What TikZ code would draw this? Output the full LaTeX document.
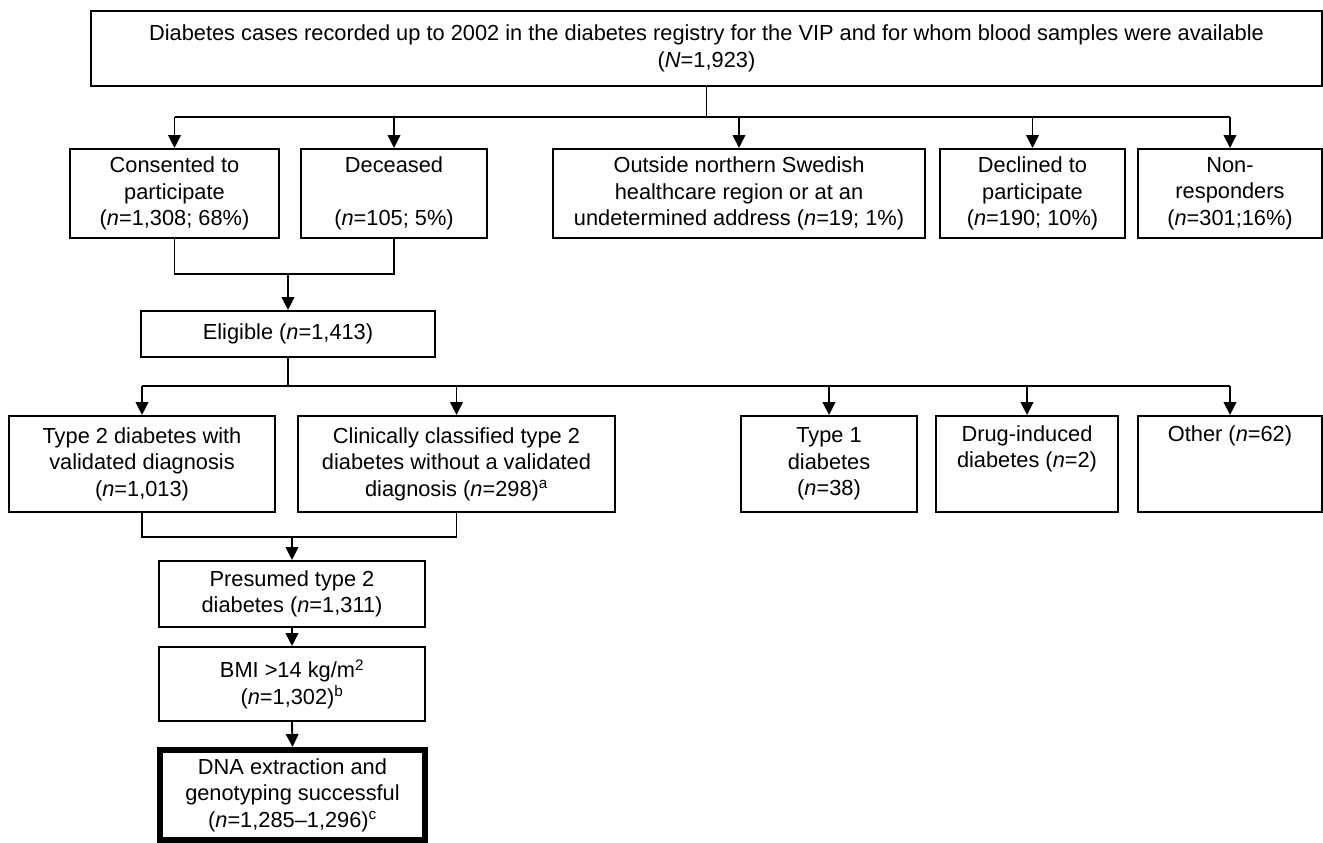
\documentclass[tikz,border=0pt]{standalone}
\usepackage{fontspec}
\setmainfont{Liberation Sans}
\usetikzlibrary{arrows.meta}
\tikzset{
  box/.style={draw, line width=1.9pt, align=center, inner sep=0pt,
    font=\fontsize{21.8}{26.5}\selectfont},
  conn/.style={line width=1.9pt},
  arr/.style={line width=1.9pt, -{Triangle[length=13pt,width=12.5pt]}}
}
\newcommand{\nn}{\textit{n}}
\begin{document}
\begin{tikzpicture}[x=1pt,y=-1pt]
\useasboundingbox (0,0) rectangle (1323,843);
% top
\node[box, minimum width=1231pt, minimum height=75pt] (top) at (706.5,48.5)
  {Diabetes cases recorded up to 2002 in the diabetes registry for the VIP and for whom blood samples were available\\(\textit{N}=1,923)};
% row 1
\node[box, minimum width=209pt, minimum height=89pt] (consent) at (174.5,193.5)
  {Consented to\\participate\\(\nn=1,308; 68\%)};
\node[box, minimum width=186pt, minimum height=89pt] (deceased) at (394,193.5)
  {Deceased\\ \strut\\(\nn=105; 5\%)};
\node[box, minimum width=372pt, minimum height=89pt] (outside) at (739,193.5)
  {Outside northern Swedish\\healthcare region or at an\\undetermined address (\nn=19; 1\%)};
\node[box, minimum width=185pt, minimum height=89pt] (declined) at (1032.5,193.5)
  {Declined to\\participate\\(\nn=190; 10\%)};
\node[box, minimum width=184pt, minimum height=89pt] (nonresp) at (1230,193.5)
  {Non-\\responders\\(\nn=301;16\%)};
% eligible
\node[box, minimum width=294pt, minimum height=46pt] (elig) at (288,334)
  {Eligible (\nn=1,413)};
% row 2
\node[box, minimum width=266pt, minimum height=96pt] (t2) at (142,464)
  {Type 2 diabetes with\\validated diagnosis\\(\nn=1,013)};
\node[box, minimum width=317pt, minimum height=96pt] (clin) at (456.5,464)
  {Clinically classified type 2\\diabetes without a validated\\diagnosis (\nn=298)\textsuperscript{a}};
\node[box, minimum width=176pt, minimum height=96pt] (t1) at (829,464)
  {Type 1\\diabetes\\(\nn=38)};
\node[box, minimum width=182pt, minimum height=96pt] (drug) at (1027,464)
  {Drug-induced\\diabetes (\nn=2)\\ \strut};
\node[box, minimum width=184pt, minimum height=96pt] (other) at (1230,464)
  {Other (\nn=62)\\ \strut\\ \strut};
% lower chain
\node[box, minimum width=266pt, minimum height=66pt] (pres) at (292,594)
  {Presumed type 2\\diabetes (\nn=1,311)};
\node[box, minimum width=266pt, minimum height=74pt] (bmi) at (292,684)
  {BMI >14 kg/m\textsuperscript{2}\\(\nn=1,302)\textsuperscript{b}};
\node[box, line width=6pt, minimum width=265pt, minimum height=90pt] (dna) at (292.5,795)
  {DNA extraction and\\genotyping successful\\(\nn=1,285--1,296)\textsuperscript{c}};
% coordinates for bus lines
\coordinate (h1) at (0,117);
\coordinate (h2) at (0,274);
\coordinate (h3) at (0,386);
\coordinate (h4) at (0,537);
% top fan-out
\draw[conn] (top.south) -- (top.south |- h1);
\draw[conn] (consent.north |- h1) -- (nonresp.north |- h1);
\foreach \n in {consent,deceased,outside,declined,nonresp}
  \draw[arr] (\n.north |- h1) -- (\n.north);
% merge to eligible
\draw[conn] (consent.south) |- (deceased.south |- h2) -- (deceased.south);
\draw[arr] (elig.north |- h2) -- (elig.north);
% eligible fan-out
\draw[conn] (elig.south) -- (elig.south |- h3);
\draw[conn] (t2.north |- h3) -- (other.north |- h3);
\foreach \n in {t2,clin,t1,drug,other}
  \draw[arr] (\n.north |- h3) -- (\n.north);
% merge to presumed
\draw[conn] (t2.south) |- (clin.south |- h4) -- (clin.south);
\draw[arr] (pres.north |- h4) -- (pres.north);
\draw[arr] (pres.south) -- (bmi.north);
\draw[arr] (bmi.south) -- (dna.north);
\end{tikzpicture}
\end{document}
